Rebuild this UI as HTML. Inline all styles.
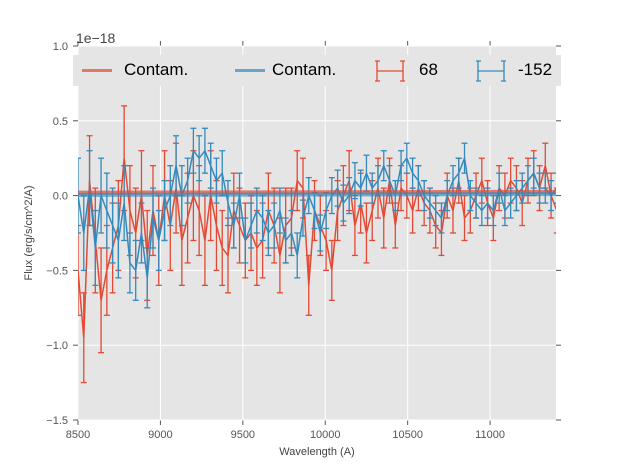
<!DOCTYPE html>
<html><head><meta charset="utf-8"><style>
body{margin:0;background:#fff;}
svg text{font-family:"Liberation Sans",sans-serif;}
</style></head><body>
<svg id="c" width="617" height="467" xmlns="http://www.w3.org/2000/svg"></svg>
<script>
const xTicks=[8500,9000,9500,10000,10500,11000];
const yTicks=[1.0,0.5,0.0,-0.5,-1.0,-1.5];
const yTickLabels=["1.0","0.5","0.0","\u22120.5","\u22121.0","\u22121.5"];
const xStart=8500, xStep=35;
const red=[-0.5,-0.95,0.1,-0.3,-0.7,-0.5,
-0.35,-0.2,0.25,-0.1,-0.25,0.0,-0.4,-0.1,-0.3,
0.0,-0.2,0.05,-0.3,-0.15,0.0,-0.1,-0.3,0.0,
-0.2,-0.35,-0.4,-0.1,-0.2,-0.3,
-0.25,-0.35,-0.3,-0.1,-0.2,-0.4,-0.2,-0.15,0.1,
0.05,-0.6,-0.1,-0.2,-0.3,-0.5,
-0.1,0.0,0.1,-0.2,-0.05,-0.25,-0.1,0.05,-0.15,
0.1,-0.2,0.05,0.0,-0.1,0.05,
-0.05,-0.1,-0.2,-0.25,0.0,-0.1,0.1,-0.15,-0.1,
0.0,0.1,-0.05,-0.15,0.05,0.0,0.1,0.05,-0.05,
0.1,0.15,0.05,0.2,0.0,-0.1];
const blue=[0.0,-0.25,0.05,-0.35,0.0,-0.1,
-0.2,-0.3,-0.05,-0.45,-0.5,-0.25,-0.55,-0.15,-0.3,
-0.1,0.0,0.2,0.0,0.1,0.3,0.25,0.3,0.2,
0.1,0.15,-0.05,-0.2,0.0,-0.3,
-0.2,-0.1,-0.15,-0.25,-0.2,-0.1,-0.3,-0.25,-0.4,
-0.15,0.0,-0.1,-0.25,-0.1,0.0,
0.05,-0.05,0.0,0.1,0.05,0.15,0.05,0.1,0.2,
0.1,0.0,0.2,0.25,0.15,0.1,
0.0,-0.05,-0.1,-0.15,0.0,0.1,0.15,0.25,0.0,
-0.05,-0.1,-0.05,-0.1,0.05,-0.1,-0.05,0.0,0.05,
0.1,0.15,0.05,0.05,0.0,0.05];
const redErr=[0.3,0.3,0.3,0.35,0.35,0.3,0.3,0.3,0.35,0.3,0.3,0.3,0.3,0.3,0.3,0.3,0.3,0.3,0.3,0.3,0.3,0.3,0.3,0.3,0.3,0.25,0.25,0.25,0.25,0.25,0.25,0.25,0.25,0.25,0.25,0.25,0.25,0.2,0.2,0.2,0.2,0.2,0.2,0.2,0.2,0.2,0.2,0.2,0.2,0.2,0.2,0.2,0.2,0.2,0.15,0.15,0.15,0.15,0.15,0.15,0.15,0.15,0.15,0.15,0.15,0.15,0.15,0.15,0.15,0.15,0.15,0.15,0.15,0.15,0.15,0.15,0.15,0.15,0.15,0.15,0.15,0.15,0.15,0.15];
const blueErr=[0.25,0.25,0.25,0.25,0.25,0.25,0.25,0.25,0.25,0.2,0.2,0.2,0.2,0.2,0.2,0.2,0.2,0.2,0.2,0.15,0.15,0.15,0.15,0.15,0.15,0.15,0.15,0.15,0.15,0.15,0.15,0.15,0.15,0.15,0.15,0.15,0.15,0.15,0.15,0.12,0.12,0.12,0.12,0.12,0.12,0.12,0.12,0.12,0.12,0.12,0.12,0.1,0.1,0.1,0.1,0.1,0.1,0.1,0.1,0.1,0.1,0.1,0.1,0.1,0.1,0.1,0.1,0.1,0.1,0.1,0.1,0.1,0.1,0.1,0.1,0.1,0.1,0.1,0.1,0.1,0.1,0.1,0.1,0.1];
const contamRed=[0.02,0.025];
const contamBlue=[0.005,0.01];

const L=78,R=556,T=46,B=420,X0=8500,X1=11400,Y0=-1.5,Y1=1.0;
const sx=v=>L+(v-X0)/(X1-X0)*(R-L);
const sy=v=>B-(v-Y0)/(Y1-Y0)*(B-T);
const NS="http://www.w3.org/2000/svg",svg=document.getElementById('c');
function mk(t,a,p){const e=document.createElementNS(NS,t);for(const k in a)e.setAttribute(k,a[k]);(p||svg).appendChild(e);return e;}
let bg=mk('rect',{x:L,y:T,width:R-L,height:B-T,fill:'#e5e5e5'});


const grid=mk('g',{});


xTicks.forEach(v=>{mk('line',{x1:sx(v),x2:sx(v),y1:T,y2:B,stroke:'#fff','stroke-width':1},grid);
 mk('line',{x1:sx(v),x2:sx(v),y1:T,y2:T-5,stroke:'#555'},grid);
 mk('line',{x1:sx(v),x2:sx(v),y1:B,y2:B+5,stroke:'#555'},grid);
 const t=mk('text',{x:sx(v),y:B+18,'text-anchor':'middle','font-size':11,fill:'#555'});t.textContent=v;
 
 });
yTicks.forEach((v,i)=>{mk('line',{x1:L,x2:R,y1:sy(v),y2:sy(v),stroke:'#fff'},grid);
 mk('line',{x1:L,x2:L-5,y1:sy(v),y2:sy(v),stroke:'#555'},grid);
 mk('line',{x1:R,x2:R+5,y1:sy(v),y2:sy(v),stroke:'#555'},grid);
 const t=mk('text',{x:L-10,y:sy(v)+4,'text-anchor':'end','font-size':11,fill:'#555'});t.textContent=yTickLabels[i];
 
 });
const clip=mk('clipPath',{id:'cp'});mk('rect',{x:L,y:T,width:R-L,height:B-T},clip);
function series(vals,errs,col,name){
 const g=mk('g',{'clip-path':'url(#cp)'});
 
 
 let d='';
 vals.forEach((v,i)=>{const x=sx(xStart+i*xStep);d+=(i?'L':'M')+x+','+sy(v);
  const a=sy(v+errs[i]),b=sy(v-errs[i]);
  mk('line',{x1:x,x2:x,y1:a,y2:b,stroke:col,'stroke-width':1.3},g);
  mk('line',{x1:x-3,x2:x+3,y1:a,y2:a,stroke:col,'stroke-width':1.3},g);
  mk('line',{x1:x-3,x2:x+3,y1:b,y2:b,stroke:col,'stroke-width':1.3},g);});
 mk('path',{d:d,fill:'none',stroke:col,'stroke-width':1.5},g);
}
function contam(v,col,name){const l=mk('line',{x1:L,x2:R,y1:sy(v[0]),y2:sy(v[1]),stroke:col,'stroke-width':4,opacity:0.7});
 
 }
series(red,redErr,'#E24A33','series-68');
series(blue,blueErr,'#348ABD','series-neg152');
contam(contamRed,'#E24A33','contam-68');
contam(contamBlue,'#348ABD','contam-neg152');
</script>
<div style="position:absolute;left:0;top:0;width:617px;height:467px;pointer-events:none;font-family:'Liberation Sans',sans-serif;">
<div style="position:absolute;left:76px;top:30px;font-size:14px;color:#444;">1e&#8722;18</div>
<div style="position:absolute;left:29px;top:233px;font-size:11px;color:#444;transform:translate(-50%,-50%) rotate(-90deg);white-space:nowrap;">Flux (erg/s/cm^2/A)</div>
<div style="position:absolute;left:317px;top:446px;font-size:11px;color:#444;transform:translateX(-50%);">Wavelength (A)</div>
<div style="position:absolute;left:73px;top:55px;width:488px;height:31px;background:#e5e5e5;font-size:17px;color:#000;">
 <div style="position:absolute;left:9px;top:14px;width:30px;height:3px;background:#E24A33;opacity:.7"></div>
 <span style="position:absolute;left:51px;top:5px;">Contam.</span>
 <div style="position:absolute;left:162px;top:14px;width:30px;height:3px;background:#348ABD;opacity:.7"></div>
 <span style="position:absolute;left:199px;top:5px;">Contam.</span>
 <svg style="position:absolute;left:302px;top:4px" width="30" height="24"><path d="M2,2V22M28,2V22M2,12H28M0,2H5M0,22H5M25,2H30M25,22H30" stroke="#E24A33" stroke-width="1.3" fill="none"/></svg>
 <span style="position:absolute;left:346px;top:5px;">68</span>
 <svg style="position:absolute;left:403px;top:4px" width="30" height="24"><path d="M2,2V22M28,2V22M2,12H28M0,2H5M0,22H5M25,2H30M25,22H30" stroke="#348ABD" stroke-width="1.3" fill="none"/></svg>
 <span style="position:absolute;left:445px;top:5px;">-152</span>
</div>
</div>
</body></html>
